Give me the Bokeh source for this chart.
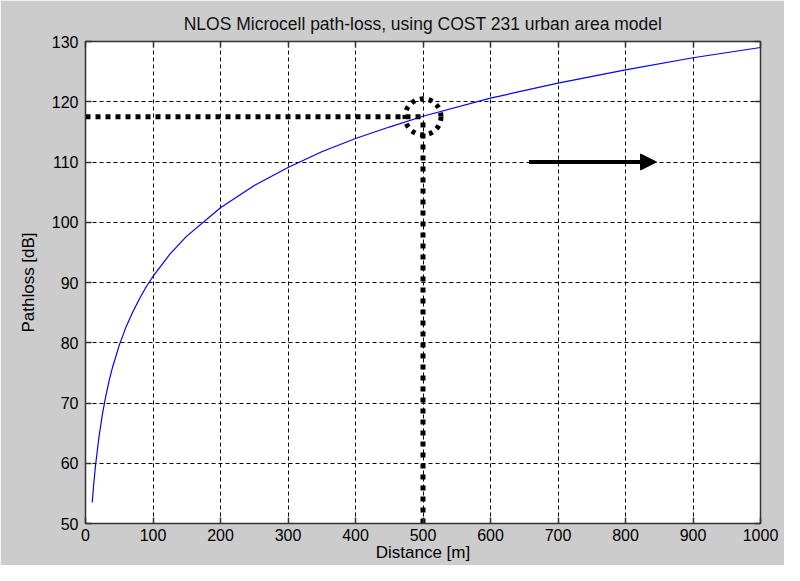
from bokeh.plotting import figure
from bokeh.models import (Range1d, LinearAxis, FixedTicker, CustomJSTickFormatter,
                          Arrow, NormalHead)
from bokeh.embed import file_html
from bokeh.resources import INLINE

# ---- data ----
distance = [10, 12, 15, 20, 25, 30, 35, 40, 50, 60, 70, 80, 90, 100, 125, 150,
            200, 250, 300, 350, 400, 450, 500, 600, 700, 800, 900, 1000]
pathloss = [53.5, 56.3, 59.8, 64.4, 68.1, 71.1, 73.7, 75.9, 79.6, 82.6, 85.1,
            87.3, 89.3, 91.0, 94.7, 97.7, 102.4, 106.1, 109.1, 111.7, 113.9,
            115.8, 117.6, 120.6, 123.1, 125.3, 127.3, 129.0]

x_ticks = [0, 100, 200, 300, 400, 500, 600, 700, 800, 900, 1000]
y_ticks = [50, 60, 70, 80, 90, 100, 110, 120, 130]

marker_distance = 500
marker_pathloss = 117.5
hline_x = [0, 500]
hline_y = [117.5, 117.5]
vline_x = [500, 500]
vline_y = [50, 117.5]
arrow_x = [657, 846]
arrow_y = [110, 110]

title_text = "NLOS Microcell path-loss, using COST 231 urban area model"
x_label = "Distance [m]"
y_label = "Pathloss [dB]"

FONT = "Liberation Sans"
GREY = "#cccccc"
AX = "#333333"

p = figure(width=784, height=565, output_backend="svg", toolbar_location=None,
           x_range=Range1d(0, 1000), y_range=Range1d(50, 130),
           min_border_left=85, min_border_right=24, min_border_top=41,
           min_border_bottom=42, title=title_text)
p.border_fill_color = GREY
p.background_fill_color = "white"
p.outline_line_color = None

p.title.align = "center"
p.title.text_font = FONT
p.title.text_font_size = "17.5px"
p.title.text_font_style = "normal"
p.title.text_color = "#111111"
p.title.standoff = 15

# grid
for g in (p.xgrid, p.ygrid):
    g.grid_line_color = "black"
    g.grid_line_dash = "4 3"
    g.grid_line_width = 1
p.xgrid.ticker = FixedTicker(ticks=x_ticks)
p.ygrid.ticker = FixedTicker(ticks=y_ticks)

def style_axis(ax, ticks):
    ax.ticker = FixedTicker(ticks=ticks)
    ax.axis_line_color = AX
    ax.axis_line_width = 1.5
    ax.major_tick_line_color = AX
    ax.major_tick_line_width = 1.5
    ax.major_tick_in = 6
    ax.major_tick_out = 0
    ax.minor_tick_line_color = None
    ax.major_label_text_font = FONT
    ax.major_label_text_font_size = "16px"
    ax.major_label_text_color = "black"
    ax.major_label_standoff = 7
    ax.axis_label_text_font = FONT
    ax.axis_label_text_font_size = "17px"
    ax.axis_label_text_font_style = "normal"
    ax.axis_label_text_color = "black"

style_axis(p.xaxis[0], x_ticks)
style_axis(p.yaxis[0], y_ticks)
p.xaxis[0].axis_label = x_label
p.yaxis[0].axis_label = y_label
p.xaxis[0].major_label_standoff = 5
p.xaxis[0].axis_label_standoff = -1
p.yaxis[0].axis_label_standoff = 11

blank = CustomJSTickFormatter(code="return ''")
top = LinearAxis()
right = LinearAxis()
style_axis(top, x_ticks)
style_axis(right, y_ticks)
for ax in (top, right):
    ax.formatter = blank
    ax.major_label_text_font_size = "1px"
    ax.major_label_standoff = 0
p.add_layout(top, "above")
p.add_layout(right, "right")

# curve
p.line(distance, pathloss, line_color="#0000ff", line_width=1.2)

# annotations
p.line(hline_x, hline_y, line_color="black", line_width=5, line_dash="5 5")
p.line(vline_x, vline_y, line_color="black", line_width=5, line_dash="5 6")
p.circle(x=[marker_distance], y=[marker_pathloss], radius=18, radius_units="screen",
         fill_color=None, line_color="black", line_width=5, line_dash="4 5")
p.add_layout(Arrow(end=NormalHead(size=16, fill_color="black", line_color="black"),
                   x_start=arrow_x[0], y_start=arrow_y[0],
                   x_end=arrow_x[1], y_end=arrow_y[1],
                   line_color="black", line_width=4))

open("out.html", "w").write(file_html(p, INLINE))
